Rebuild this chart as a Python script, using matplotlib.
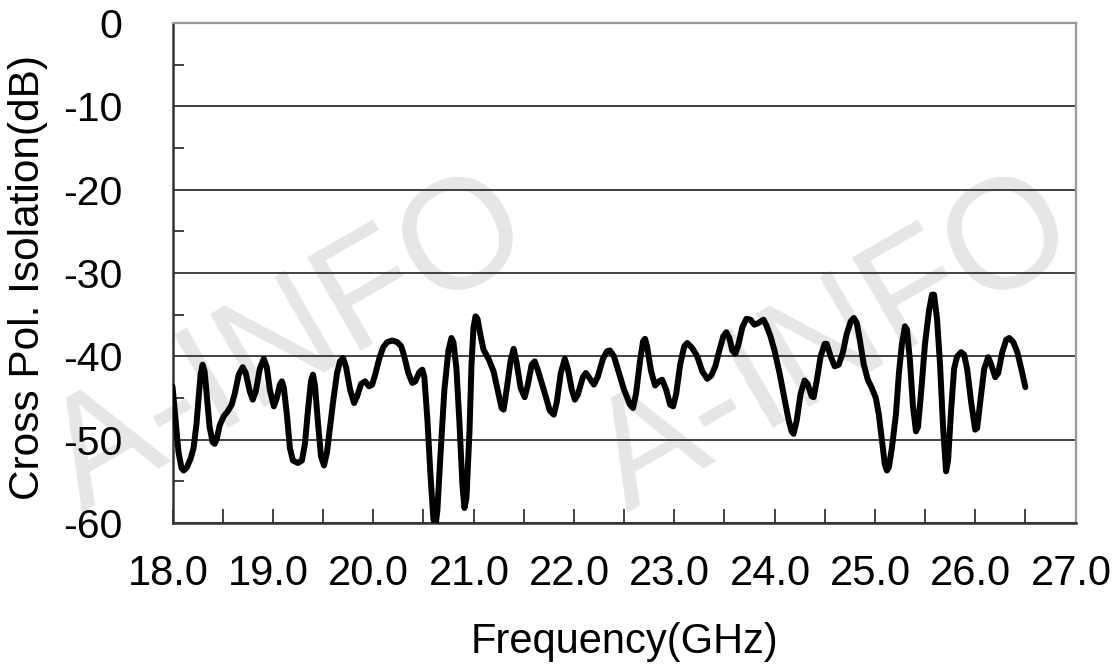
import matplotlib
matplotlib.use("Agg")
import matplotlib.pyplot as plt
from matplotlib.ticker import MultipleLocator, FormatStrFormatter
from matplotlib.transforms import ScaledTranslation

plt.rcParams['font.family'] = ['Liberation Sans', 'DejaVu Sans']
plt.rcParams['axes.unicode_minus'] = False

# values (GHz, dB)
freq_ghz = [
    18.00, 18.03, 18.06, 18.09, 18.11, 18.14, 18.18, 18.21, 18.24, 18.26,
    18.28, 18.30, 18.32, 18.34, 18.37, 18.40, 18.42, 18.44, 18.47, 18.51,
    18.55, 18.59, 18.62, 18.66, 18.70, 18.73, 18.77, 18.80, 18.83, 18.87,
    18.91, 18.94, 18.97, 19.01, 19.04, 19.07, 19.09, 19.11, 19.14, 19.17,
    19.20, 19.25, 19.29, 19.32, 19.35, 19.38, 19.40, 19.42, 19.45, 19.48,
    19.51, 19.54, 19.57, 19.60, 19.64, 19.67, 19.70, 19.73, 19.77, 19.81,
    19.84, 19.88, 19.92, 19.96, 19.99, 20.02, 20.06, 20.10, 20.14, 20.19,
    20.24, 20.28, 20.31, 20.35, 20.39, 20.42, 20.46, 20.49, 20.51, 20.54,
    20.57, 20.60, 20.62, 20.64, 20.67, 20.71, 20.75, 20.78, 20.80, 20.83,
    20.86, 20.89, 20.91, 20.93, 20.96, 20.98, 21.00, 21.02, 21.04, 21.07,
    21.10, 21.15, 21.20, 21.24, 21.28, 21.30, 21.33, 21.37, 21.40, 21.43,
    21.47, 21.51, 21.54, 21.58, 21.61, 21.64, 21.70, 21.76, 21.80, 21.83,
    21.87, 21.91, 21.94, 21.98, 22.01, 22.04, 22.09, 22.12, 22.15, 22.20,
    22.24, 22.29, 22.33, 22.36, 22.40, 22.45, 22.50, 22.56, 22.59, 22.62,
    22.66, 22.69, 22.71, 22.73, 22.77, 22.81, 22.85, 22.88, 22.92, 22.96,
    22.99, 23.02, 23.06, 23.10, 23.13, 23.18, 23.23, 23.28, 23.33, 23.37,
    23.41, 23.45, 23.49, 23.52, 23.55, 23.58, 23.61, 23.64, 23.68, 23.72,
    23.76, 23.80, 23.84, 23.89, 23.92, 23.96, 24.00, 24.05, 24.09, 24.14,
    24.17, 24.19, 24.22, 24.26, 24.30, 24.33, 24.37, 24.39, 24.42, 24.46,
    24.50, 24.52, 24.56, 24.60, 24.64, 24.68, 24.72, 24.76, 24.79, 24.82,
    24.85, 24.89, 24.93, 24.97, 25.01, 25.04, 25.07, 25.10, 25.12, 25.14,
    25.17, 25.21, 25.24, 25.27, 25.30, 25.32, 25.35, 25.38, 25.41, 25.43,
    25.46, 25.50, 25.54, 25.57, 25.59, 25.62, 25.65, 25.68, 25.71, 25.73,
    25.76, 25.79, 25.82, 25.86, 25.89, 25.92, 25.96, 26.00, 26.02, 26.05,
    26.09, 26.13, 26.16, 26.20, 26.23, 26.27, 26.31, 26.34, 26.38, 26.42,
    26.46, 26.50,
]
isolation_db = [
    -43.6, -47.5, -51.5, -53.4, -53.7, -53.4, -52.3, -51.0, -48.0, -45.0,
    -42.2, -41.0, -41.8, -44.5, -48.5, -50.3, -50.5, -50.0, -48.3, -47.2,
    -46.6, -45.8, -44.5, -42.2, -41.3, -42.0, -44.2, -45.2, -44.2, -41.5,
    -40.3, -41.3, -44.0, -46.0, -45.0, -43.4, -43.0, -43.8, -47.0, -51.0,
    -52.5, -52.8, -52.5, -50.5, -46.5, -43.0, -42.2, -43.5, -48.0, -52.0,
    -53.1, -51.5, -48.5, -45.5, -42.0, -40.6, -40.2, -41.3, -44.0, -45.6,
    -44.8, -43.3, -43.0, -43.6, -43.4, -42.2, -40.3, -38.9, -38.3, -38.1,
    -38.3, -38.8, -40.0, -42.0, -43.2, -43.0, -41.9, -41.6, -42.5, -47.5,
    -54.0, -59.5, -60.5, -58.5, -52.0, -44.0, -39.3, -37.8, -38.3, -41.5,
    -48.0, -55.5, -58.2, -57.0, -49.0, -41.0, -36.5, -35.2, -35.5, -37.5,
    -39.2, -40.3, -41.8, -44.0, -46.2, -46.4, -44.0, -40.5, -39.1, -40.8,
    -43.8, -44.9, -43.5, -41.0, -40.6, -41.6, -44.0, -46.5, -47.0, -45.5,
    -42.0, -40.3, -41.5, -44.0, -45.2, -44.6, -42.5, -42.0, -42.5, -43.4,
    -42.4, -40.3, -39.4, -39.3, -40.0, -42.0, -44.0, -45.8, -46.2, -44.5,
    -40.5, -38.2, -37.9, -38.8, -41.8, -43.5, -43.0, -42.8, -44.0, -45.8,
    -46.0, -44.5, -41.0, -38.8, -38.4, -39.0, -40.0, -41.8, -42.7, -42.3,
    -41.2, -39.3, -37.6, -37.1, -37.8, -39.3, -39.7, -38.6, -36.5, -35.5,
    -35.6, -36.2, -36.0, -35.6, -36.3, -37.6, -39.3, -42.0, -44.5, -47.6,
    -49.0, -49.3, -47.8, -44.5, -42.9, -43.3, -44.8, -44.9, -43.0, -40.0,
    -38.5, -38.5, -40.0, -41.2, -41.0, -39.6, -37.3, -35.8, -35.4, -36.0,
    -38.0, -41.0, -42.8, -43.8, -45.0, -47.0, -50.0, -53.0, -53.7, -53.3,
    -51.0, -47.0, -42.0, -38.5, -36.4, -36.8, -40.5, -46.0, -49.0, -48.5,
    -44.5, -38.5, -34.5, -32.6, -32.6, -35.5, -41.0, -48.5, -53.8, -52.5,
    -46.5, -41.5, -40.0, -39.5, -39.8, -41.5, -45.5, -48.8, -48.6, -45.5,
    -41.5, -40.1, -41.0, -42.5, -42.0, -39.5, -38.0, -37.8, -38.3, -39.5,
    -41.5, -43.7,
]

W, H = 1119, 672
fig = plt.figure(figsize=(W / 100, H / 100), dpi=100)
ax = fig.add_axes([172.5 / W, 1 - 523 / H, 903 / W, 500 / H])
ax.patch.set_alpha(0)

# faint watermark behind the plot
for px, py in [(290, 345), (835, 345)]:
    fig.text(px / W, 1 - py / H, "A-INFO", fontsize=112, color='#e6e6e6',
             rotation=30, ha='center', va='center', zorder=-5)

ax.plot(freq_ghz, isolation_db, color='black', lw=4.3,
        solid_joinstyle='round', solid_capstyle='round', zorder=3)

ax.set_xlim(18, 27)
ax.set_ylim(-60, 0)
ax.xaxis.set_major_locator(MultipleLocator(1.0))
ax.xaxis.set_minor_locator(MultipleLocator(0.5))
ax.xaxis.set_major_formatter(FormatStrFormatter('%.1f'))
ax.yaxis.set_major_locator(MultipleLocator(10))
ax.yaxis.set_minor_locator(MultipleLocator(5))
ax.yaxis.set_major_formatter(FormatStrFormatter('%d'))

ax.yaxis.grid(True, which='major', color='#333333', lw=1.3)
ax.set_axisbelow(True)

ax.tick_params(axis='x', which='both', direction='in', length=10, width=1.3,
               color='#333333', labelsize=30, pad=22)
ax.tick_params(axis='y', which='major', direction='in', length=0,
               labelsize=29.5, pad=36)
ax.tick_params(axis='y', which='minor', direction='in', length=8, width=1.3,
               color='#333333')

# x labels sit a few pixels left of their ticks in the reference
shift = ScaledTranslation(-4.5 / 100, 0, fig.dpi_scale_trans)
for lab in ax.get_xticklabels():
    lab.set_transform(lab.get_transform() + shift)

for side in ['left', 'bottom']:
    ax.spines[side].set_color('#333333')
    ax.spines[side].set_linewidth(1.8)
for side in ['top', 'right']:
    ax.spines[side].set_color('#999999')
    ax.spines[side].set_linewidth(1.6)

fig.text(624 / W, 1 - 642 / H, "Frequency(GHz)", fontsize=30,
         ha='center', va='center')
fig.text(28 / W, 1 - 277 / H, "Cross Pol. Isolation(dB)", fontsize=30.5,
         rotation=90, ha='center', va='center')

fig.savefig("out.png", dpi=100)
